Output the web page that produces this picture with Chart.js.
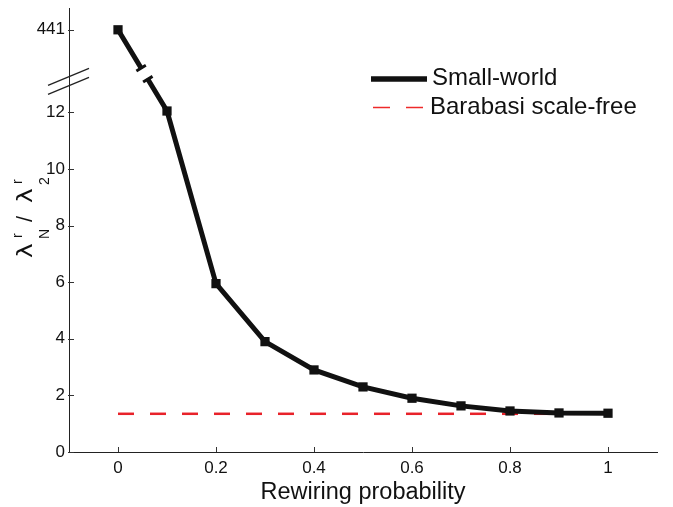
<!DOCTYPE html>
<html>
<head>
<meta charset="utf-8">
<script src="https://cdn.jsdelivr.net/npm/chart.js@4.4.1/dist/chart.umd.min.js"></script>
<style>
html,body{margin:0;padding:0;background:#fff;}
#wrap{width:673px;height:507px;position:relative;}
</style>
</head>
<body>
<div id="wrap"><canvas id="c" width="673" height="507"></canvas></div>
<script>
// ---- data ----
const rewiring = [0, 0.1, 0.2, 0.3, 0.4, 0.5, 0.6, 0.7, 0.8, 0.9, 1.0];
const smallWorld = [441, 12.05, 5.95, 3.9, 2.9, 2.3, 1.9, 1.63, 1.45, 1.38, 1.37];
const barabasiX = [0, 1];
const barabasiY = [1.35, 1.35];
const yTickValues = [0, 2, 4, 6, 8, 10, 12, 441];
const xTickValues = [0, 0.2, 0.4, 0.6, 0.8, 1];
const seriesNames = ['Small-world', 'Barabasi scale-free'];
const xTitle = 'Rewiring probability';

// broken axis: values above the break are drawn at a fixed position
const BREAK_LIMIT = 13;
const HIGH_POS = 14.92;      // where 441 sits on the axis
const LINE_BREAK = 13.37;    // where the line is cut
const AXIS_BREAK = 13.1;     // where the axis break marks sit
function toAxis(v){ return v > BREAK_LIMIT ? HIGH_POS : v; }
function fromAxis(p){ return p > BREAK_LIMIT ? 441 : p; }

const FONT = '"Liberation Sans", Arial, sans-serif';

const decor = {
  id: 'decor',
  afterDatasetsDraw(chart){
    const ctx = chart.ctx;
    const xs = chart.scales.x, ys = chart.scales.y;
    const area = chart.chartArea;
    ctx.save();
    // inside tick marks
    ctx.strokeStyle = '#333';
    ctx.lineWidth = 1;
    yTickValues.forEach(v => {
      const y = Math.round(ys.getPixelForValue(toAxis(v))) + 0.5;
      ctx.beginPath(); ctx.moveTo(area.left - 1, y); ctx.lineTo(area.left + 5, y); ctx.stroke();
    });
    xTickValues.forEach(v => {
      const x = Math.round(xs.getPixelForValue(v)) + 0.5;
      ctx.beginPath(); ctx.moveTo(x, area.bottom); ctx.lineTo(x, area.bottom - 5); ctx.stroke();
    });

    // gap in the line between the first two points
    const p0 = {x: xs.getPixelForValue(rewiring[0]), y: ys.getPixelForValue(toAxis(smallWorld[0]))};
    const p1 = {x: xs.getPixelForValue(rewiring[1]), y: ys.getPixelForValue(toAxis(smallWorld[1]))};
    const yb = ys.getPixelForValue(LINE_BREAK);
    const t = (yb - p0.y) / (p1.y - p0.y);
    const cx = p0.x + t * (p1.x - p0.x), cy = yb;
    const dx = p1.x - p0.x, dy = p1.y - p0.y, len = Math.hypot(dx, dy);
    const ux = dx / len, uy = dy / len;
    const half = 5.5;
    ctx.strokeStyle = '#fff';
    ctx.lineWidth = 9;
    ctx.lineCap = 'butt';
    ctx.beginPath();
    ctx.moveTo(cx - ux * half, cy - uy * half);
    ctx.lineTo(cx + ux * half, cy + uy * half);
    ctx.stroke();
    ctx.strokeStyle = '#111';
    ctx.lineWidth = 3;
    const px = -uy, py = ux, cap = 5.5;
    [-1, 1].forEach(s => {
      const ex = cx + s * ux * (half + 1), ey = cy + s * uy * (half + 1);
      ctx.beginPath();
      ctx.moveTo(ex - px * cap, ey - py * cap);
      ctx.lineTo(ex + px * cap, ey + py * cap);
      ctx.stroke();
    });

    // axis break marks
    const ab = ys.getPixelForValue(AXIS_BREAK);
    ctx.strokeStyle = '#222';
    ctx.lineWidth = 1.3;
    [-4.5, 4.5].forEach(o => {
      ctx.beginPath();
      ctx.moveTo(area.left - 21, ab + o + 8.5);
      ctx.lineTo(area.left + 20, ab + o - 8.5);
      ctx.stroke();
    });

    // legend
    ctx.lineCap = 'butt';
    ctx.strokeStyle = '#111';
    ctx.lineWidth = 5.5;
    ctx.beginPath(); ctx.moveTo(371, 79); ctx.lineTo(427, 79); ctx.stroke();
    ctx.strokeStyle = '#ee2a2a';
    ctx.lineWidth = 1.5;
    ctx.beginPath(); ctx.moveTo(373, 107.5); ctx.lineTo(390, 107.5); ctx.stroke();
    ctx.beginPath(); ctx.moveTo(406, 107.5); ctx.lineTo(423, 107.5); ctx.stroke();
    ctx.fillStyle = '#111';
    ctx.font = '24px ' + FONT;
    ctx.textBaseline = 'middle';
    ctx.textAlign = 'left';
    ctx.fillText(seriesNames[0], 432, 78);
    ctx.fillText(seriesNames[1], 430, 107);

    // y title: lambda_N^r / lambda_2^r, rotated, reading upward
    ctx.translate(32, 258);
    ctx.rotate(-Math.PI / 2);
    ctx.textBaseline = 'alphabetic';
    const lam = '21px "DejaVu Sans", sans-serif';
    const slash = '22px ' + FONT;
    const small = '14px ' + FONT;
    function drawLambda(x){
      ctx.save();
      ctx.font = lam;
      ctx.scale(1.18, 1);
      ctx.fillText('λ', x / 1.18, 0);
      ctx.restore();
    }
    function drawStack(x, sub){
      ctx.font = small;
      ctx.fillText('r', x + 1, -10);
      ctx.fillText(sub, x, 17);
    }
    drawLambda(0);
    drawStack(19, 'N');
    ctx.font = slash;
    ctx.fillText('/', 36, 0);
    drawLambda(55);
    drawStack(73, '2');
    ctx.restore();
  }
};

const ctx = document.getElementById('c').getContext('2d');
new Chart(ctx, {
  type: 'scatter',
  data: {
    datasets: [
      {
        label: seriesNames[0],
        data: rewiring.map((r, i) => ({x: r, y: toAxis(smallWorld[i])})),
        showLine: true,
        borderColor: '#111',
        backgroundColor: '#111',
        borderWidth: 5,
        pointStyle: 'rect',
        pointRadius: 3,
        pointHoverRadius: 3,
        tension: 0
      },
      {
        label: seriesNames[1],
        data: barabasiX.map((r, i) => ({x: r, y: barabasiY[i]})),
        showLine: true,
        borderColor: '#e8222a',
        borderWidth: 2.5,
        borderDash: [16, 16],
        pointRadius: 0,
        tension: 0
      }
    ]
  },
  options: {
    responsive: false,
    animation: false,
    layout: {padding: {left: 0, top: 6, right: 16, bottom: 0}},
    plugins: {legend: {display: false}, tooltip: {enabled: false}},
    scales: {
      x: {
        type: 'linear',
        min: -0.1, max: 1.1,
        afterBuildTicks: s => { s.ticks = xTickValues.map(v => ({value: v})); },
        afterFit: s => { s.height = 55; s.paddingLeft = 0; s.paddingRight = 0; },
        grid: {display: false, drawTicks: false},
        border: {display: true, color: '#222', width: 1},
        ticks: {
          color: '#111',
          font: {family: FONT, size: 17},
          padding: 6,
          callback: v => String(v)
        },
        title: {
          display: true, text: xTitle, color: '#111',
          font: {family: FONT, size: 23.5}, padding: {top: 0, bottom: 0}
        }
      },
      y: {
        type: 'linear',
        min: 0, max: 15.69,
        afterBuildTicks: s => { s.ticks = yTickValues.map(v => ({value: toAxis(v)})); },
        afterFit: s => { s.width = 69; s.paddingTop = 0; s.paddingBottom = 0; },
        grid: {display: false, drawTicks: false},
        border: {display: true, color: '#222', width: 1},
        ticks: {
          color: '#111',
          font: {family: FONT, size: 17},
          padding: 4,
          callback: v => String(fromAxis(v))
        }
      }
    }
  },
  plugins: [decor]
});
</script>
</body>
</html>
